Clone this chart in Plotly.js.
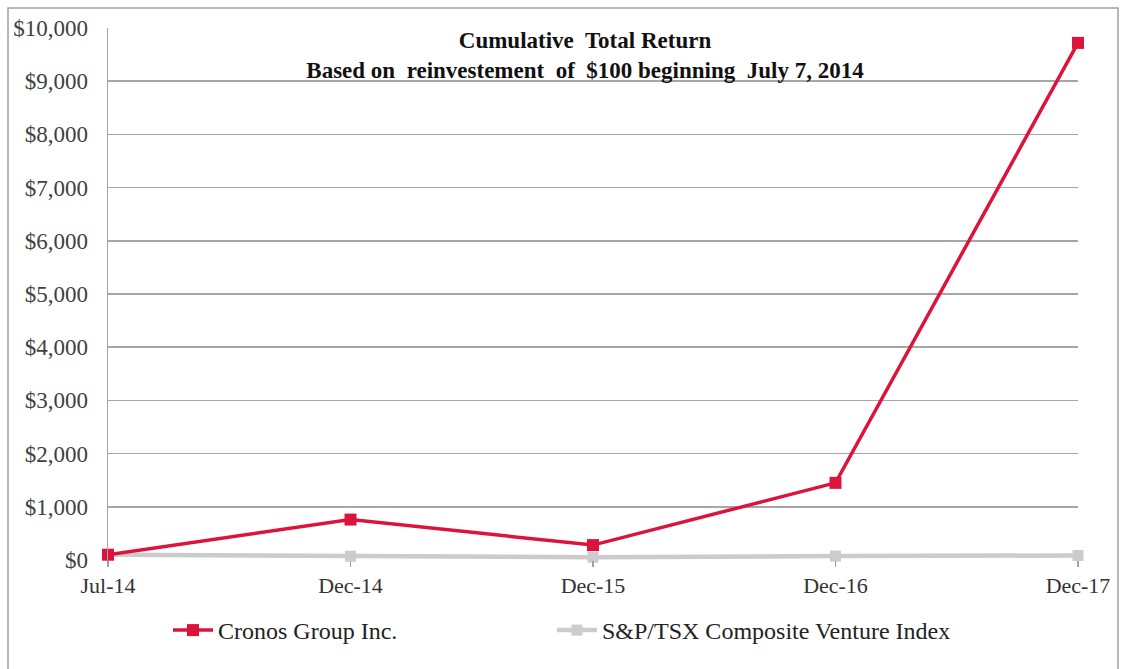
<!DOCTYPE html>
<html>
<head>
<meta charset="utf-8">
<script src="https://cdn.plot.ly/plotly-3.0.1.min.js"></script>
<style>html,body{margin:0;padding:0;background:#fff;}#chart{width:1121px;height:669px;}</style>
</head>
<body>
<div id="chart"></div>
<script>
const categories = ["Jul-14", "Dec-14", "Dec-15", "Dec-16", "Dec-17"];
const cronosValues = [100, 760, 280, 1450, 9720];
const tsxValues = [100, 71, 52, 74, 85];
const yTickValues = [0, 1000, 2000, 3000, 4000, 5000, 6000, 7000, 8000, 9000, 10000];
const yTickLabels = ["$0", "$1,000", "$2,000", "$3,000", "$4,000", "$5,000", "$6,000", "$7,000", "$8,000", "$9,000", "$10,000"];
const seriesNames = ["Cronos Group Inc.", "S&P/TSX Composite Venture Index"];
const titleText = "Cumulative  Total Return<br>Based on  reinvestement  of  $100 beginning  July 7, 2014";

const font = "Liberation Serif, Times New Roman, serif";

const traces = [
  {
    x: categories, y: tsxValues, name: seriesNames[1], type: "scatter", mode: "lines+markers",
    line: {color: "#cccccc", width: 4.5}, marker: {symbol: "square", size: 11, color: "#cccccc"},
    cliponaxis: false, legend: "legend2"
  },
  {
    x: categories, y: cronosValues, name: seriesNames[0], type: "scatter", mode: "lines+markers",
    line: {color: "#dc143c", width: 3.5}, marker: {symbol: "square", size: 12, color: "#dc143c"},
    cliponaxis: false, legend: "legend"
  }
];

const W = 970, H = 532;
const legendFont = {family: font, size: 24, color: "#222222"};
const layout = {
  width: 1121, height: 669,
  margin: {l: 108, r: 43, t: 28, b: 109, pad: 0},
  paper_bgcolor: "#ffffff", plot_bgcolor: "#ffffff",
  font: {family: font, size: 22, color: "#333333"},
  title: {
    text: titleText, font: {family: font, size: 23, color: "#111111", weight: "bold"},
    x: 585/1121, xanchor: "center", y: 1 - 48/669, yanchor: "top", yref: "container"
  },
  xaxis: {
    type: "category", range: [0, 4], showgrid: false, zeroline: false,
    showline: false, ticks: "outside", ticklen: 6, tickcolor: "#a0a0a0", tickwidth: 1.5,
    tickfont: {family: font, size: 22, color: "#333333"}, fixedrange: true
  },
  yaxis: {
    range: [0, 10000], tickvals: yTickValues, ticktext: yTickLabels,
    showgrid: true, gridcolor: "#a6a6a6", gridwidth: 1.5, zeroline: false,
    showline: true, linecolor: "#a6a6a6", linewidth: 1.5, ticks: "", ticklabelstandoff: 14,
    tickfont: {family: font, size: 23, color: "#404040"}, fixedrange: true
  },
  legend: {
    orientation: "h", x: 168/1121, xref: "container", xanchor: "left",
    y: 1 - 608/669, yref: "container", yanchor: "top",
    font: legendFont, itemwidth: 40, bgcolor: "rgba(0,0,0,0)"
  },
  legend2: {
    orientation: "h", x: 552/1121, xref: "container", xanchor: "left",
    y: 1 - 608/669, yref: "container", yanchor: "top",
    font: legendFont, itemwidth: 40, bgcolor: "rgba(0,0,0,0)"
  },
  shapes: [{
    type: "rect", xref: "paper", yref: "paper",
    x0: (8-108)/W, x1: (1118-108)/W, y0: (560-700)/H, y1: (560-8)/H,
    line: {color: "#a0a0a0", width: 1.5}, layer: "below"
  }],
  showlegend: true
};

Plotly.newPlot("chart", traces, layout, {displayModeBar: false, staticPlot: true});
</script>
</body>
</html>
